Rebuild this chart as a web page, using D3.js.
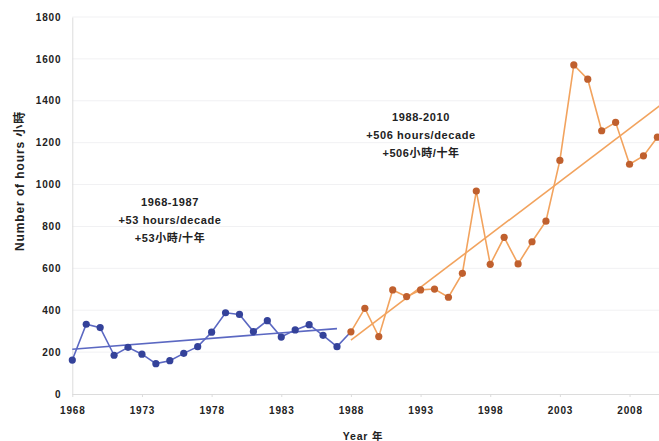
<!DOCTYPE html>
<html>
<head>
<meta charset="utf-8">
<script src="https://cdn.jsdelivr.net/npm/d3@7/dist/d3.min.js"></script>
<style>
  html, body { margin: 0; padding: 0; background: #fff; }
  svg { display: block; }
  text { font-family: "Liberation Sans", Arial, "Noto Sans CJK TC", sans-serif; font-weight: bold; fill: #222; }
</style>
</head>
<body>
<svg id="chart" width="659" height="441"></svg>
<script>
// Annual hours, two periods
const earlyYears = [1968,1969,1970,1971,1972,1973,1974,1975,1976,1977,1978,1979,1980,1981,1982,1983,1984,1985,1986,1987];
const earlyHours = [162,333,317,185,223,190,145,159,194,226,295,388,380,298,350,272,306,331,280,226];

const lateYears = [1988,1989,1990,1991,1992,1993,1994,1995,1996,1997,1998,1999,2000,2001,2002,2003,2004,2005,2006,2007,2008,2009,2010];
const lateHours = [297,409,274,497,465,497,501,462,576,969,619,748,621,727,825,1115,1571,1503,1257,1297,1097,1137,1226];

const xTickYears = [1968,1973,1978,1983,1988,1993,1998,2003,2008];
const yTickValues = [0,200,400,600,800,1000,1200,1400,1600,1800];

const earlyNote = ["1968-1987", "+53 hours/decade", "+53小時/十年"];
const lateNote = ["1988-2010", "+506 hours/decade", "+506小時/十年"];

const blueLine = "#5b68c2", blueDot = "#34429a";
const orangeLine = "#f2a35e", orangeDot = "#c0602e";

const svg = d3.select("#chart");
const x = d3.scaleLinear().domain([1968, 2010]).range([72.3, 657.4]);
const y = d3.scaleLinear().domain([0, 1800]).range([394, 17]);

// gridlines
svg.append("g").selectAll("line").data(yTickValues.slice(1)).join("line")
  .attr("x1", x(1968)).attr("x2", 665)
  .attr("y1", d => y(d)).attr("y2", d => y(d))
  .attr("stroke", "#f1f1f3").attr("stroke-width", 1);

// axes
const yAxis = svg.append("g").attr("transform", `translate(${x(1968)},0)`)
  .call(d3.axisLeft(y).tickValues(yTickValues).tickSize(0).tickPadding(11).tickFormat(d3.format("d")));
const xAxis = svg.append("g").attr("transform", `translate(0,${y(0)})`)
  .call(d3.axisBottom(x).tickValues(xTickYears).tickSize(3).tickPadding(10).tickFormat(d3.format("d")));
[yAxis, xAxis].forEach(g => {
  g.select(".domain").attr("stroke", "#dcdcdc");
  g.selectAll(".tick line").attr("stroke", "#dcdcdc");
  g.selectAll("text").attr("font-size", 10).attr("font-family", null)
    .attr("letter-spacing", 0.8).attr("fill", "#222");
});
xAxis.select(".domain").attr("d", `M${x(1968)},0.5H665`);

// axis titles
svg.append("text").attr("transform", "translate(24,181) rotate(-90)")
  .attr("text-anchor", "middle").attr("font-size", 12).attr("letter-spacing", 0.9)
  .text("Number of hours 小時");
svg.append("text").attr("x", 363).attr("y", 440)
  .attr("text-anchor", "middle").attr("font-size", 10.5).attr("letter-spacing", 0.8).text("Year 年");

// least-squares trend
function trend(xs, ys) {
  const mx = d3.mean(xs), my = d3.mean(ys);
  const sxy = d3.sum(xs, (v, i) => (v - mx) * (ys[i] - my));
  const sxx = d3.sum(xs, v => (v - mx) ** 2);
  const b = sxy / sxx;
  return v => my + b * (v - mx);
}
const earlyFit = trend(earlyYears, earlyHours);
const lateFit = trend(lateYears, lateHours);

const line = d3.line().x(d => x(d[0])).y(d => y(d[1]));

// series lines (early series runs on to the first point of the later period)
const earlyPts = earlyYears.map((v, i) => [v, earlyHours[i]]).concat([[lateYears[0], lateHours[0]]]);
const latePts = lateYears.map((v, i) => [v, lateHours[i]]);

svg.append("path").attr("d", line(earlyPts)).attr("fill", "none")
  .attr("stroke", blueLine).attr("stroke-width", 1.6);
svg.append("path").attr("d", line(latePts)).attr("fill", "none")
  .attr("stroke", orangeLine).attr("stroke-width", 1.6);

// trend lines
const e0 = earlyYears[0], e1 = earlyYears[earlyYears.length - 1];
svg.append("path").attr("d", line([[e0, earlyFit(e0)], [e1, earlyFit(e1)]]))
  .attr("stroke", blueLine).attr("stroke-width", 1.6).attr("fill", "none");
const l0 = lateYears[0], l1 = 2010.3;
svg.append("path").attr("d", line([[l0, lateFit(l0)], [l1, lateFit(l1)]]))
  .attr("stroke", orangeLine).attr("stroke-width", 1.6).attr("fill", "none");

// markers
svg.append("g").selectAll("circle").data(earlyPts.slice(0, earlyYears.length)).join("circle")
  .attr("cx", d => x(d[0])).attr("cy", d => y(d[1])).attr("r", 3.6).attr("fill", blueDot);
svg.append("g").selectAll("circle").data(latePts).join("circle")
  .attr("cx", d => x(d[0])).attr("cy", d => y(d[1])).attr("r", 3.6).attr("fill", orangeDot);

// annotations
function note(lines, cx, top) {
  svg.append("g").selectAll("text").data(lines).join("text")
    .attr("x", cx).attr("y", (d, i) => top + i * 17.8)
    .attr("text-anchor", "middle").attr("font-size", 11).attr("letter-spacing", 0.6)
    .text(d => d);
}
note(earlyNote, 170, 206);
note(lateNote, 421, 121);
</script>
</body>
</html>
